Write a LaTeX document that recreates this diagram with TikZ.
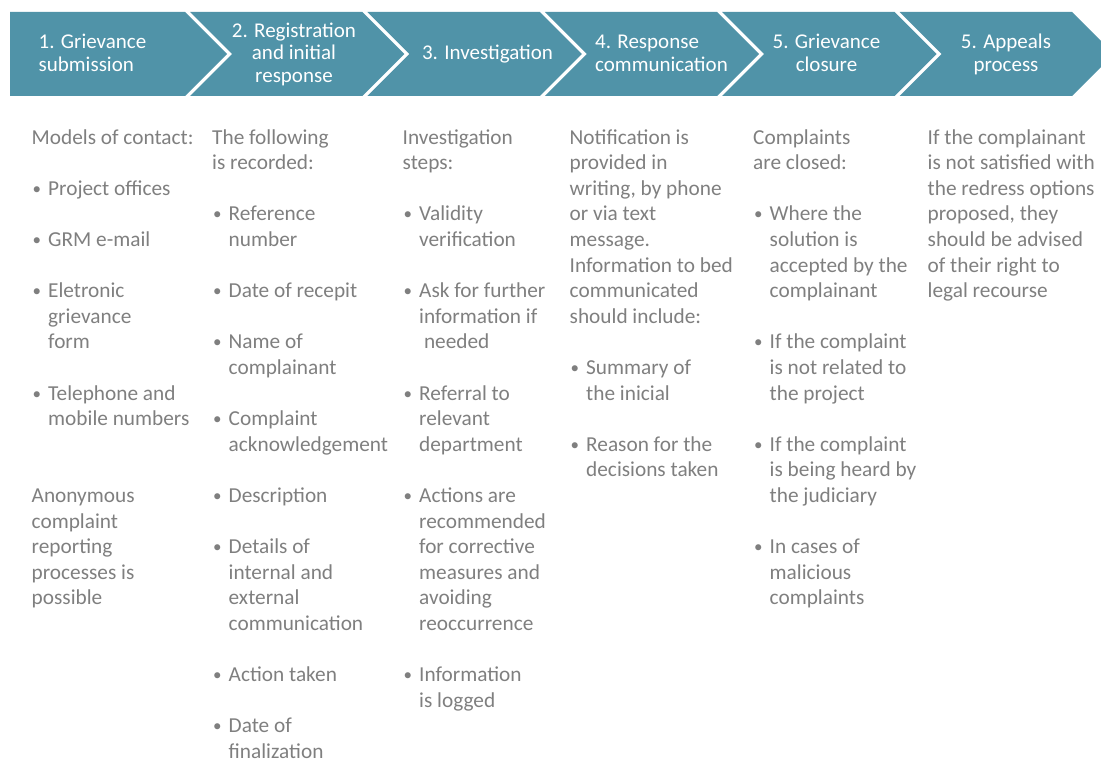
\documentclass[tikz,border=0pt]{standalone}
\usepackage{fontspec}
\setmainfont{Carlito}
\usepackage{tikz}
\usetikzlibrary{positioning}
\definecolor{StepTeal}{HTML}{5093A8}
\definecolor{BodyGrey}{HTML}{7F7F7F}
\newcommand{\bul}{\makebox[16.5pt][l]{\hspace{1pt}\raisebox{1pt}{\scalebox{0.8}{\textbullet}}}}
\newcommand{\ind}{\hspace*{16.5pt}}

\begin{document}
\begin{tikzpicture}[x=1pt, y=-1pt,
  % ── chevron style ────────────────────────────────────────
  chev/.style={fill=StepTeal, draw=none},
  % ── header text (placed at the baseline of its last line) ─
  head/.style={text=white, font=\fontsize{21}{23}\selectfont,
               inner sep=0pt, align=center, anchor=base},
  % ── column text (placed at the baseline of its last line) ─
  body/.style={text=BodyGrey, font=\fontsize{21.3}{25.6}\selectfont,
               inner sep=0pt, align=left, anchor=base west}
]
\useasboundingbox (0,0) rectangle (1101,776);
\clip (0,0) rectangle (1101,776);

%% ── Chevrons ──
\fill[chev] (10,12) -- (185,12) -- (227,54) -- (185,96) -- (10,96) -- cycle;
\foreach \i in {1,...,5}{
  \pgfmathsetmacro{\xl}{190+177.4*(\i-1)}
  \pgfmathsetmacro{\xr}{362.4+177.4*(\i-1)}
  \fill[chev] (\xl,12) -- (\xr,12) -- (\xr+42,54) -- (\xr,96)
              -- (\xl,96) -- (\xl+42,54) -- cycle;
}

%% ── Step titles ──
\node[head, anchor=base west, align=left] (h1) at (38.5,71.5) {1. Grievance\\submission};
\node[head] (h2) at (294,83)   {2. Registration\\and initial\\response};
\node[head] (h3) at (487.5,60) {3. Investigation};
\node[head, anchor=base west, align=left] (h4) at (595,71.5) {4. Response\\communication};
\node[head] (h5) at (826.5,71.5) {5. Grievance\\closure};
\node[head] (h6) at (1006,71.5)  {5. Appeals\\process};

%% ── Column 1 ──
\node[body] (c1) at (31.5,604.8) {Models of contact:\\ \\
  \bul Project offices\\ \\
  \bul GRM e-mail\\ \\
  \bul Eletronic\\ \ind grievance\\ \ind form\\ \\
  \bul Telephone and\\ \ind mobile numbers\\ \\ \\
  Anonymous\\ complaint\\ reporting\\ processes is\\ possible};

%% ── Column 2 ──
\node[body] (c2) at (212,758.4) {The following\\ is recorded:\\ \\
  \bul Reference\\ \ind number\\ \\
  \bul Date of recepit\\ \\
  \bul Name of\\ \ind complainant\\ \\
  \bul Complaint\\ \ind acknowledgement\\ \\
  \bul Description\\ \\
  \bul Details of\\ \ind internal and\\ \ind external\\ \ind communication\\ \\
  \bul Action taken\\ \\
  \bul Date of\\ \ind finalization};

%% ── Column 3 ──
\node[body] (c3) at (402.5,707.2) {Investigation\\ steps:\\ \\
  \bul Validity\\ \ind verification\\ \\
  \bul Ask for further\\ \ind information if\\ \ind\ needed\\ \\
  \bul Referral to\\ \ind relevant\\ \ind department\\ \\
  \bul Actions are\\ \ind recommended\\ \ind for corrective\\ \ind measures and\\ \ind avoiding\\ \ind reoccurrence\\ \\
  \bul Information\\ \ind is logged};

%% ── Column 4 ──
\node[body] (c4) at (569.5,476.8) {Notification is\\ provided in\\ writing, by phone\\ or via text\\ message.\\
  Information to bed\\ communicated\\ should include:\\ \\
  \bul Summary of\\ \ind the inicial\\ \\
  \bul Reason for the\\ \ind decisions taken};

%% ── Column 5 ──
\node[body] (c5) at (753,604.8) {Complaints\\ are closed:\\ \\
  \bul Where the\\ \ind solution is\\ \ind accepted by the\\ \ind complainant\\ \\
  \bul If the complaint\\ \ind is not related to\\ \ind the project\\ \\
  \bul If the complaint\\ \ind is being heard by\\ \ind the judiciary\\ \\
  \bul In cases of\\ \ind malicious\\ \ind complaints};

%% ── Column 6 ──
\node[body] (c6) at (927.5,297.6) {If the complainant\\ is not satisfied with\\ the redress options\\
  proposed, they\\ should be advised\\ of their right to\\ legal recourse};

\end{tikzpicture}
\end{document}
